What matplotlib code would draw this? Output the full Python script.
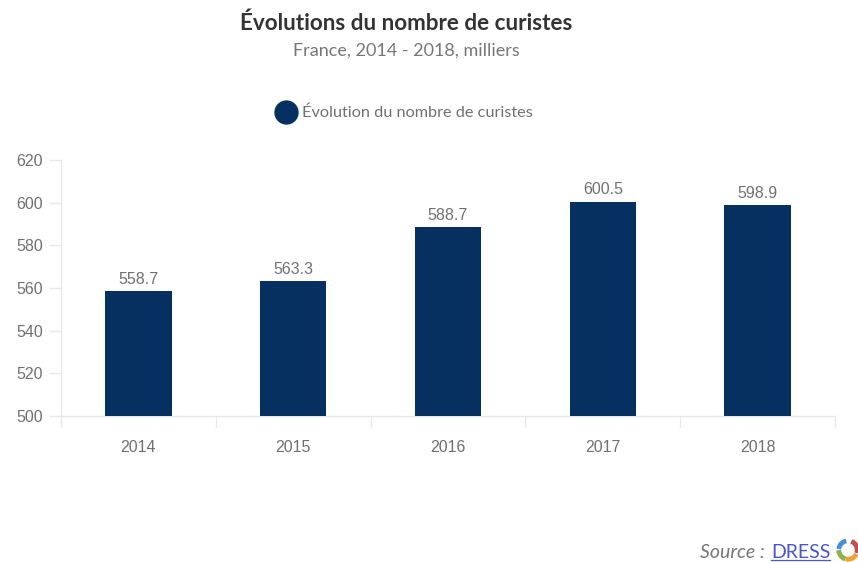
#!/usr/bin/env python3
"""Bar chart of the number of spa patients in France, 2014-2018."""
from __future__ import annotations

import matplotlib

matplotlib.use("Agg")
import matplotlib.pyplot as plt
from matplotlib.lines import Line2D
from matplotlib.patches import Wedge
from matplotlib.ticker import FixedLocator, NullFormatter
from matplotlib.transforms import IdentityTransform

years = ["2014", "2015", "2016", "2017", "2018"]
curistes = [558.7, 563.3, 588.7, 600.5, 598.9]
y_ticks = [500, 520, 540, 560, 580, 600, 620]

NAVY = "#06305f"
GREY = "#707070"
AXIS = "#e8e8e8"
W, H = 858, 562
HEADING = ["Lato", "DejaVu Sans"]
LABELS = ["Liberation Sans", "DejaVu Sans"]


def px(x: float, y: float) -> tuple[float, float]:
    return x / W, 1 - y / H


fig = plt.figure(figsize=(W / 100, H / 100), dpi=100, facecolor="white")
ax = fig.add_axes([61 / W, 1 - 416 / H, (835 - 61) / W, (416 - 160) / H])

positions = range(len(years))
ax.bar(positions, curistes, width=0.43, color=NAVY, label="Évolution du nombre de curistes", zorder=3)
for pos, value in zip(positions, curistes):
    ax.annotate(
        f"{value:.1f}", (pos, value), xytext=(0, 3), textcoords="offset points",
        ha="center", va="bottom", fontsize=11.5, color=GREY, family=LABELS,
    )

ax.set_xlim(-0.5, len(years) - 0.5)
ax.set_ylim(y_ticks[0], y_ticks[-1])
ax.set_yticks(y_ticks)
ax.set_xticks(list(positions))
ax.set_xticklabels(years)
ax.xaxis.set_minor_locator(FixedLocator([p - 0.5 for p in range(len(years) + 1)]))
ax.xaxis.set_minor_formatter(NullFormatter())

for side in ("top", "right"):
    ax.spines[side].set_visible(False)
for side in ("left", "bottom"):
    ax.spines[side].set_color(AXIS)
    ax.spines[side].set_linewidth(1.0)

ax.tick_params(axis="x", which="major", length=0, pad=17, labelsize=11.5, labelcolor=GREY)
ax.tick_params(axis="x", which="minor", length=8, width=1.0, color=AXIS)
ax.tick_params(axis="y", length=9, width=1.0, color=AXIS, pad=4, labelsize=11.5, labelcolor=GREY)
for label in ax.get_xticklabels() + ax.get_yticklabels():
    label.set_family(LABELS)

# title block
fig.text(*px(406, 23), "Évolutions du nombre de curistes", ha="center", va="center",
         fontsize=16.2, fontweight="bold", color="#333333", family=HEADING)
fig.text(*px(406, 51), "France, 2014 - 2018, milliers", ha="center", va="center",
         fontsize=13, color="#777777", family=HEADING)

handle = Line2D([], [], linestyle="none", marker="o", markersize=16.5, color=NAVY)
fig.legend(
    [handle], ["Évolution du nombre de curistes"],
    loc="center", bbox_to_anchor=px(401, 113), frameon=False, handletextpad=0.0,
    prop={"family": HEADING, "size": 11.7}, labelcolor=GREY,
)

# source line with its link and the small ring logo
fig.text(*px(765, 553), "Source :", ha="right", va="center", fontsize=14, style="italic",
         color="#777777", family=HEADING)
fig.text(*px(771, 553), "DRESS", ha="left", va="center", fontsize=14,
         color="#4a55c8", family=HEADING)
fig.add_artist(Line2D([771 / W, 830 / W], [1 - 560 / H] * 2, color="#4a55c8", linewidth=0.9))

ring_colors = ["#c0504d", "#e8a33d", "#8fb04a", "#4a90d9"]
ring_spans = [(-15, 65), (-100, -30), (-175, -110), (105, 170)]
for color, (start, end) in zip(ring_colors, ring_spans):
    fig.add_artist(Wedge((848, H - 550), 11, start, end, width=3.5, color=color,
                         transform=IdentityTransform()))

fig.savefig("out.png", dpi=100)
plt.close(fig)
